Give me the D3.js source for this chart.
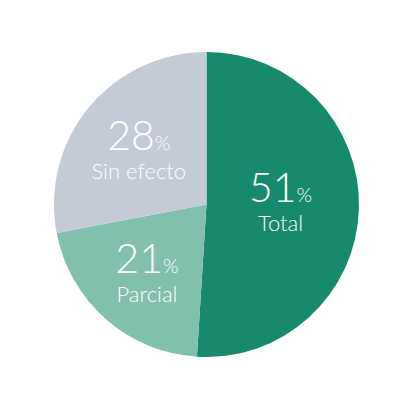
<!DOCTYPE html>
<head>
  <meta charset='utf-8'>
  <script src="https://d3js.org/d3.v7.min.js"></script>
  <style>
    body { margin: 0; background: #fff; }
    text { font-family: Lato, "Open Sans", sans-serif; font-weight: 300; fill: #fff; }
  </style>
</head>
<body>
  <div id="container"></div>
  <script type="text/javascript">
    // data
    var labels = ["Total", "Parcial", "Sin efecto"];
    var values = [51, 21, 28];
    var colors = ["#178a6e", "#82c0ae", "#c4cad6"];

    var width = 413, height = 413;
    var cx = 206.5, cy = 204.5, radius = 152.5;

    var svg = d3.select("#container").append("svg")
        .attr("width", width)
        .attr("height", height);

    var g = svg.append("g").attr("transform", "translate(" + cx + "," + cy + ")");

    var pie = d3.pie().sort(null).value(function(d) { return d; });
    var arcs = pie(values);

    var arc = d3.arc().innerRadius(0).outerRadius(radius);

    g.selectAll("path.slice")
      .data(arcs)
      .enter().append("path")
        .attr("class", "slice")
        .attr("d", arc)
        .attr("fill", function(d, i) { return colors[i]; });

    // labels sit near the centroid, nudged by eye per slice
    var labelArc = d3.arc().innerRadius(84).outerRadius(84);
    var nudge = [[-10, 8], [-4, 18], [-3, 12]];

    var lab = g.selectAll("g.label")
      .data(arcs)
      .enter().append("g")
        .attr("class", "label")
        .attr("transform", function(d, i) {
          var c = labelArc.centroid(d);
          return "translate(" + (c[0] + nudge[i][0]) + "," + (c[1] + nudge[i][1]) + ")";
        });

    var pct = lab.append("text")
        .attr("text-anchor", "middle")
        .attr("y", -13);
    pct.append("tspan")
        .attr("font-size", 41)
        .text(function(d) { return d.data; });
    pct.append("tspan")
        .attr("font-size", 20)
        .text("%");

    lab.append("text")
        .attr("text-anchor", "middle")
        .attr("y", 16)
        .attr("font-size", 22)
        .text(function(d, i) { return labels[i]; });
  </script>
</body>
